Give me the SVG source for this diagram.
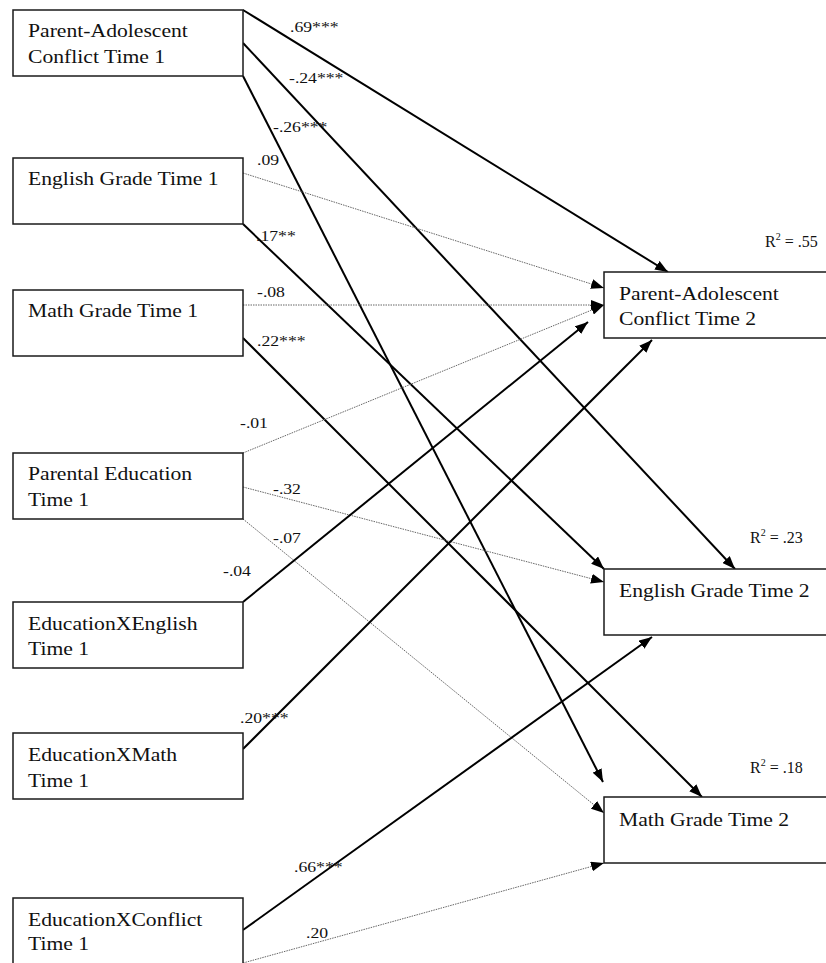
<svg xmlns="http://www.w3.org/2000/svg" width="826" height="963" viewBox="0 0 826 963">
<style>
  .box { fill: #fff; stroke: #1a1a1a; stroke-width: 1.5; }
  .t { font-family: "Liberation Serif", "Times New Roman", serif; font-size: 19px; fill: #111; }
  .lb { font-family: "Liberation Serif", "Times New Roman", serif; font-size: 15.5px; fill: #111; }
  .r2 { font-family: "Liberation Serif", "Times New Roman", serif; font-size: 16px; fill: #111; }
  .sol { fill: none; stroke: #000; stroke-width: 2; marker-end: url(#ah); }
  .dot { fill: none; stroke: #666; stroke-width: 1; stroke-dasharray: 1.5 1; marker-end: url(#ah); }
</style>
<defs>
  <marker id="ah" viewBox="0 0 13 10" refX="13" refY="5" markerWidth="13" markerHeight="10" markerUnits="userSpaceOnUse" orient="auto">
    <path d="M0,0 L13,5 L0,10 z" fill="#000"/>
  </marker>
</defs>
<rect width="826" height="963" fill="#fff"/>

<g id="connectors">
  <line class="sol" x1="243" y1="10" x2="668" y2="272"/>
  <line class="sol" x1="243" y1="43" x2="735" y2="569"/>
  <line class="sol" x1="243" y1="76" x2="603" y2="782"/>
  <line class="dot" x1="243" y1="173" x2="604" y2="288"/>
  <line class="sol" x1="243" y1="224" x2="604" y2="569"/>
  <line class="dot" x1="243" y1="305" x2="604" y2="305"/>
  <line class="sol" x1="243" y1="338" x2="702" y2="797"/>
  <line class="dot" x1="243" y1="453" x2="604" y2="305"/>
  <line class="dot" x1="243" y1="487" x2="604" y2="582"/>
  <line class="dot" x1="243" y1="519" x2="604" y2="813"/>
  <line class="sol" x1="243" y1="602" x2="588" y2="322"/>
  <line class="sol" x1="243" y1="749" x2="652" y2="340"/>
  <line class="sol" x1="243" y1="930" x2="652" y2="637"/>
  <line class="dot" x1="243" y1="963" x2="604" y2="863"/>
</g>

<g id="labels">
  <text class="lb" transform="translate(290 32) scale(1.14 1)">.69***</text>
  <text class="lb" transform="translate(289 83) scale(1.14 1)">-.24***</text>
  <text class="lb" transform="translate(273 132) scale(1.14 1)">-.26***</text>
  <text class="lb" transform="translate(257 165) scale(1.14 1)">.09</text>
  <text class="lb" transform="translate(256 241) scale(1.14 1)">.17**</text>
  <text class="lb" transform="translate(257 297) scale(1.14 1)">-.08</text>
  <text class="lb" transform="translate(257 346) scale(1.14 1)">.22***</text>
  <text class="lb" transform="translate(240 428) scale(1.14 1)">-.01</text>
  <text class="lb" transform="translate(273 494) scale(1.14 1)">-.32</text>
  <text class="lb" transform="translate(273 543) scale(1.14 1)">-.07</text>
  <text class="lb" transform="translate(223 576) scale(1.14 1)">-.04</text>
  <text class="lb" transform="translate(240 723) scale(1.14 1)">.20***</text>
  <text class="lb" transform="translate(294 872) scale(1.14 1)">.66***</text>
  <text class="lb" transform="translate(306 938) scale(1.14 1)">.20</text>
  <text class="r2" x="765" y="247">R<tspan font-size="10" dy="-7">2</tspan><tspan dy="7"> = .55</tspan></text>
  <text class="r2" x="750" y="543">R<tspan font-size="10" dy="-7">2</tspan><tspan dy="7"> = .23</tspan></text>
  <text class="r2" x="750" y="773">R<tspan font-size="10" dy="-7">2</tspan><tspan dy="7"> = .18</tspan></text>
</g>

<g id="pac1">
  <rect class="box" x="13" y="10" width="230" height="66"/>
  <text class="t" transform="translate(28 37) scale(1.14 1)">Parent-Adolescent</text>
  <text class="t" transform="translate(28 63) scale(1.14 1)">Conflict Time 1</text>
</g>
<g id="eng1">
  <rect class="box" x="13" y="158" width="230" height="66"/>
  <text class="t" transform="translate(28 185) scale(1.14 1)">English Grade Time 1</text>
</g>
<g id="math1">
  <rect class="box" x="13" y="290" width="230" height="66"/>
  <text class="t" transform="translate(28 317) scale(1.14 1)">Math Grade Time 1</text>
</g>
<g id="pared1">
  <rect class="box" x="13" y="453" width="230" height="66"/>
  <text class="t" transform="translate(28 480) scale(1.14 1)">Parental Education</text>
  <text class="t" transform="translate(28 506) scale(1.14 1)">Time 1</text>
</g>
<g id="edxeng1">
  <rect class="box" x="13" y="602" width="230" height="66"/>
  <text class="t" transform="translate(28 630) scale(1.14 1)">EducationXEnglish</text>
  <text class="t" transform="translate(28 655) scale(1.14 1)">Time 1</text>
</g>
<g id="edxmath1">
  <rect class="box" x="13" y="733" width="230" height="66"/>
  <text class="t" transform="translate(28 761) scale(1.14 1)">EducationXMath</text>
  <text class="t" transform="translate(28 787) scale(1.14 1)">Time 1</text>
</g>
<g id="edxconf1">
  <rect class="box" x="13" y="898" width="230" height="66"/>
  <text class="t" transform="translate(28 926) scale(1.14 1)">EducationXConflict</text>
  <text class="t" transform="translate(28 950) scale(1.14 1)">Time 1</text>
</g>

<g id="pac2">
  <rect class="box" x="604" y="272" width="230" height="66"/>
  <text class="t" transform="translate(619 300) scale(1.14 1)">Parent-Adolescent</text>
  <text class="t" transform="translate(619 325) scale(1.14 1)">Conflict Time 2</text>
</g>
<g id="eng2">
  <rect class="box" x="604" y="569" width="230" height="66"/>
  <text class="t" transform="translate(619 597) scale(1.14 1)">English Grade Time 2</text>
</g>
<g id="math2">
  <rect class="box" x="604" y="797" width="230" height="66"/>
  <text class="t" transform="translate(619 826) scale(1.14 1)">Math Grade Time 2</text>
</g>
</svg>
